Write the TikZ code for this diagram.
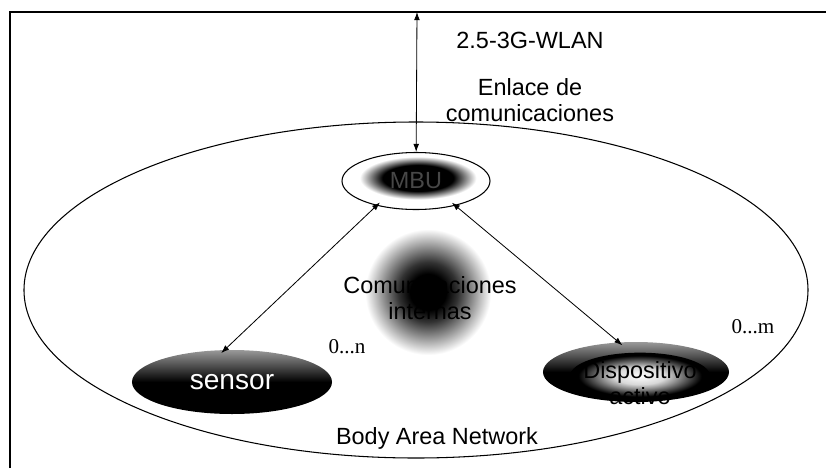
\documentclass[tikz,border=0pt]{standalone}
\usepackage{fontspec}
\setmainfont{Liberation Sans}
\newfontfamily\cardfont{Liberation Serif}
\usetikzlibrary{shapes.geometric,arrows.meta}
\pgfdeclareradialshading{spray}{\pgfpoint{0bp}{0bp}}{color(0bp)=(black); color(14bp)=(black); color(23bp)=(white); color(50bp)=(white)}
\pgfdeclareradialshading{cloud}{\pgfpoint{0bp}{0bp}}{color(0bp)=(black); color(6bp)=(black); color(10bp)=(black!80); color(21bp)=(white); color(50bp)=(white)}
\pgfdeclareradialshading{glow}{\pgfpoint{0bp}{0bp}}{color(0bp)=(white); color(9bp)=(white!85!black); color(13bp)=(black!40); color(22bp)=(black); color(50bp)=(black)}

\begin{document}
\begin{tikzpicture}[x=0.03cm, y=-0.03cm, >={Latex[length=7pt,width=5pt]},
  lbl/.style={font=\fontsize{20}{22}\selectfont, align=center, inner sep=0pt},
  card/.style={font=\cardfont\fontsize{18}{20}\selectfont, inner sep=0pt},
  ring/.style={ellipse, draw, line width=0.9pt, inner sep=0pt},
  pad/.style={ellipse, inner sep=0pt, top color=black!40, bottom color=black, middle color=black}]
  \useasboundingbox (0,0) rectangle (826,468);
  \draw[line width=1.2pt] (10,468) -- (10,12) -- (826,12);
  \coordinate (uplink) at (417,12);
  \node[ring, minimum width=23.52cm, minimum height=10.08cm] (ban) at (416,290) {};
  \node[ellipse, shading=cloud, minimum size=4.5cm] (cloud) at (428,292) {};
  \node[ellipse, shading=spray, minimum width=3.8cm, minimum height=1.4cm] (mbublob) at (418,178) {};
  \node[ring, minimum width=4.44cm, minimum height=1.71cm, font=\fontsize{20}{22}\selectfont, text=black!72] (mbu) at (416,181) {MBU};
  \node[pad, minimum width=6cm, minimum height=1.92cm, text=white, font=\fontsize{24}{26}\selectfont] (sensor) at (232,382) {sensor};
  \node[pad, minimum width=5.58cm, minimum height=1.8cm] (disp) at (636,372) {};
  \node[ellipse, shading=glow, minimum width=4.2cm, minimum height=1.4cm] (dispglow) at (640,376) {};
  \node[lbl] (disptext) at (640,383) {Dispositivo\\activo};
  \node[lbl] (cint) at (430,298) {Comunicaciones\\internas};
  \node[lbl] (wlan) at (530,40) {2.5-3G-WLAN};
  \node[lbl] (enlace) at (530,100) {Enlace de\\comunicaciones};
  \node[lbl] (bantext) at (437,438) {Body Area Network};
  \node[card] (nsens) at (347,347) {0...n};
  \node[card] (mdisp) at (753,327) {0...m};
  \draw[<->, line width=0.7pt] (uplink) -- (mbu);
  \draw[<->, line width=0.7pt, shorten <=-4pt, shorten >=-4pt] (mbu.212) -- (sensor.103);
  \draw[<->, line width=0.7pt, shorten <=-4pt, shorten >=-4pt] (mbu.-32) -- (disp.120);
\end{tikzpicture}
\end{document}
